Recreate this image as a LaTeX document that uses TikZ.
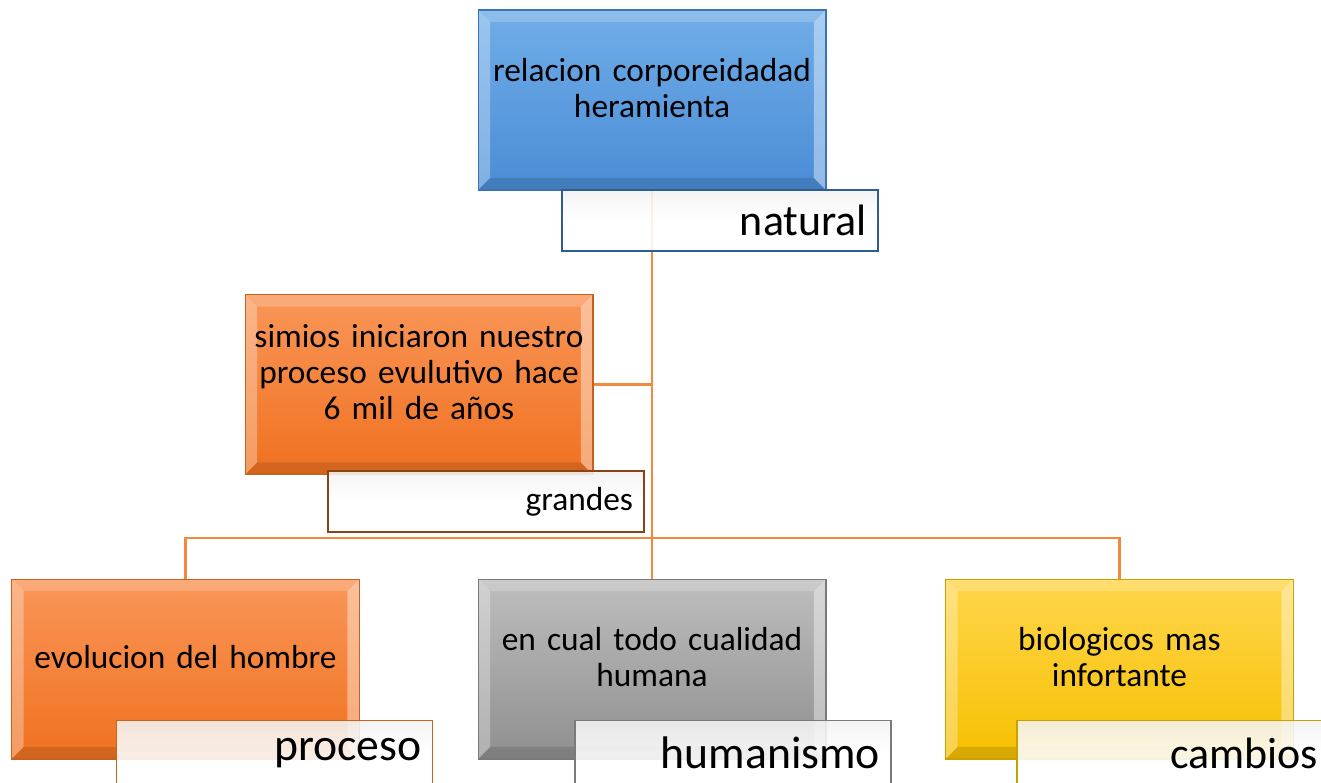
\documentclass[tikz,border=0pt]{standalone}
\usepackage{fontspec}
\setmainfont{Carlito}
\usepackage{tikz}
\usetikzlibrary{calc,positioning,backgrounds}
\definecolor{blueTop}{RGB}{112, 173, 232}
\definecolor{blueBot}{RGB}{74, 141, 214}
\definecolor{blueLine}{RGB}{59, 116, 181}
\definecolor{orangeTop}{RGB}{249, 150, 88}
\definecolor{orangeBot}{RGB}{240, 113, 32}
\definecolor{orangeLine}{RGB}{197, 96, 30}
\definecolor{grayTop}{RGB}{190, 190, 190}
\definecolor{grayBot}{RGB}{143, 143, 143}
\definecolor{grayLine}{RGB}{122, 122, 122}
\definecolor{yellowTop}{RGB}{255, 214, 76}
\definecolor{yellowBot}{RGB}{246, 192, 0}
\definecolor{yellowLine}{RGB}{201, 160, 0}
\definecolor{linkColor}{RGB}{244, 136, 60}

\tikzset{
  bevel/.style={path picture={
      \fill[white,opacity=0.30] (path picture bounding box.south west) -- ($(path picture bounding box.south west)+(12,12)$)
        -- ($(path picture bounding box.north west)+(12,-12)$) -- (path picture bounding box.north west) -- cycle;
      \fill[white,opacity=0.20] (path picture bounding box.north west) -- ($(path picture bounding box.north west)+(12,-12)$)
        -- ($(path picture bounding box.north east)+(-12,-12)$) -- (path picture bounding box.north east) -- cycle;
      \fill[white,opacity=0.40] (path picture bounding box.north east) -- ($(path picture bounding box.north east)+(-12,-12)$)
        -- ($(path picture bounding box.south east)+(-12,12)$) -- (path picture bounding box.south east) -- cycle;
      \fill[black,opacity=0.12] (path picture bounding box.south east) -- ($(path picture bounding box.south east)+(-12,12)$)
        -- ($(path picture bounding box.south west)+(12,12)$) -- (path picture bounding box.south west) -- cycle;
  }},
  mainbox/.style={bevel, draw=#1Line, line width=0.6pt, top color=#1Top, bottom color=#1Bot,
    minimum width=6.96cm, minimum height=3.6cm, text width=6.8cm, inner xsep=0.08cm,
    align=center, font=\fontsize{19}{20.5}\selectfont,
    execute at end node={\par\vspace{0.48cm}}},
  tagbox/.style={draw=#1, line width=0.8pt, top color=white!90!gray, bottom color=white,
    middle color=white, fill opacity=0.88, text opacity=1,
    minimum width=6.32cm, minimum height=1.22cm, text width=5.88cm, inner xsep=0.22cm,
    align=right},
  lowtag/.style={tagbox=#1, minimum height=1.3cm, font=\fontsize{26}{29}\selectfont},
  link/.style={draw=linkColor, line width=1.3pt}
}

\begin{document}
\begin{tikzpicture}[x=0.02cm,y=0.02cm]
  \useasboundingbox (0,0) rectangle (1321,-782);
  \clip (0,0) rectangle (1321,-782);

  % upper boxes
  \node[mainbox=blue] (top) at (652,-100) {relacion corporeidadad\\heramienta};
  \node[tagbox=blueLine!80!black, font=\fontsize{25}{28}\selectfont] (natural) at (720,-220.5) {natural};

  \node[mainbox=orange] (simios) at (419,-384.5) {simios iniciaron nuestro\\proceso evulutivo hace\\6 mil de años};
  \node[tagbox=orangeLine!70!black, font=\fontsize{19}{21}\selectfont] (grandes) at (486,-501.5) {grandes};

  % bottom row
  \node[mainbox=orange] (evol) at (185.5,-669) {evolucion del hombre};
  \node[lowtag=orangeLine!90!orange] (proceso) at (274.5,-753) {proceso};

  \node[mainbox=gray] (cual) at (652,-669) {en cual todo cualidad\\humana};
  \node[lowtag=grayLine] (humanismo) at (733,-753) {humanismo};

  \node[mainbox=yellow] (bio) at (1119.5,-669) {biologicos mas\\infortante};
  \node[lowtag=yellowLine, font=\fontsize{25}{28}\selectfont, text width=5.72cm] (cambios) at (1175,-753) {cambios};

  % connectors
  \begin{scope}[on background layer]
    \coordinate (hub) at (652,-538);
    \draw[link] (top.south) -- (cual.north);
    \draw[link] (simios.east) -- (simios.east -| top.south);
    \draw[link] (hub) -| (evol.north);
    \draw[link] (hub) -| (bio.north);
  \end{scope}
\end{tikzpicture}
\end{document}
